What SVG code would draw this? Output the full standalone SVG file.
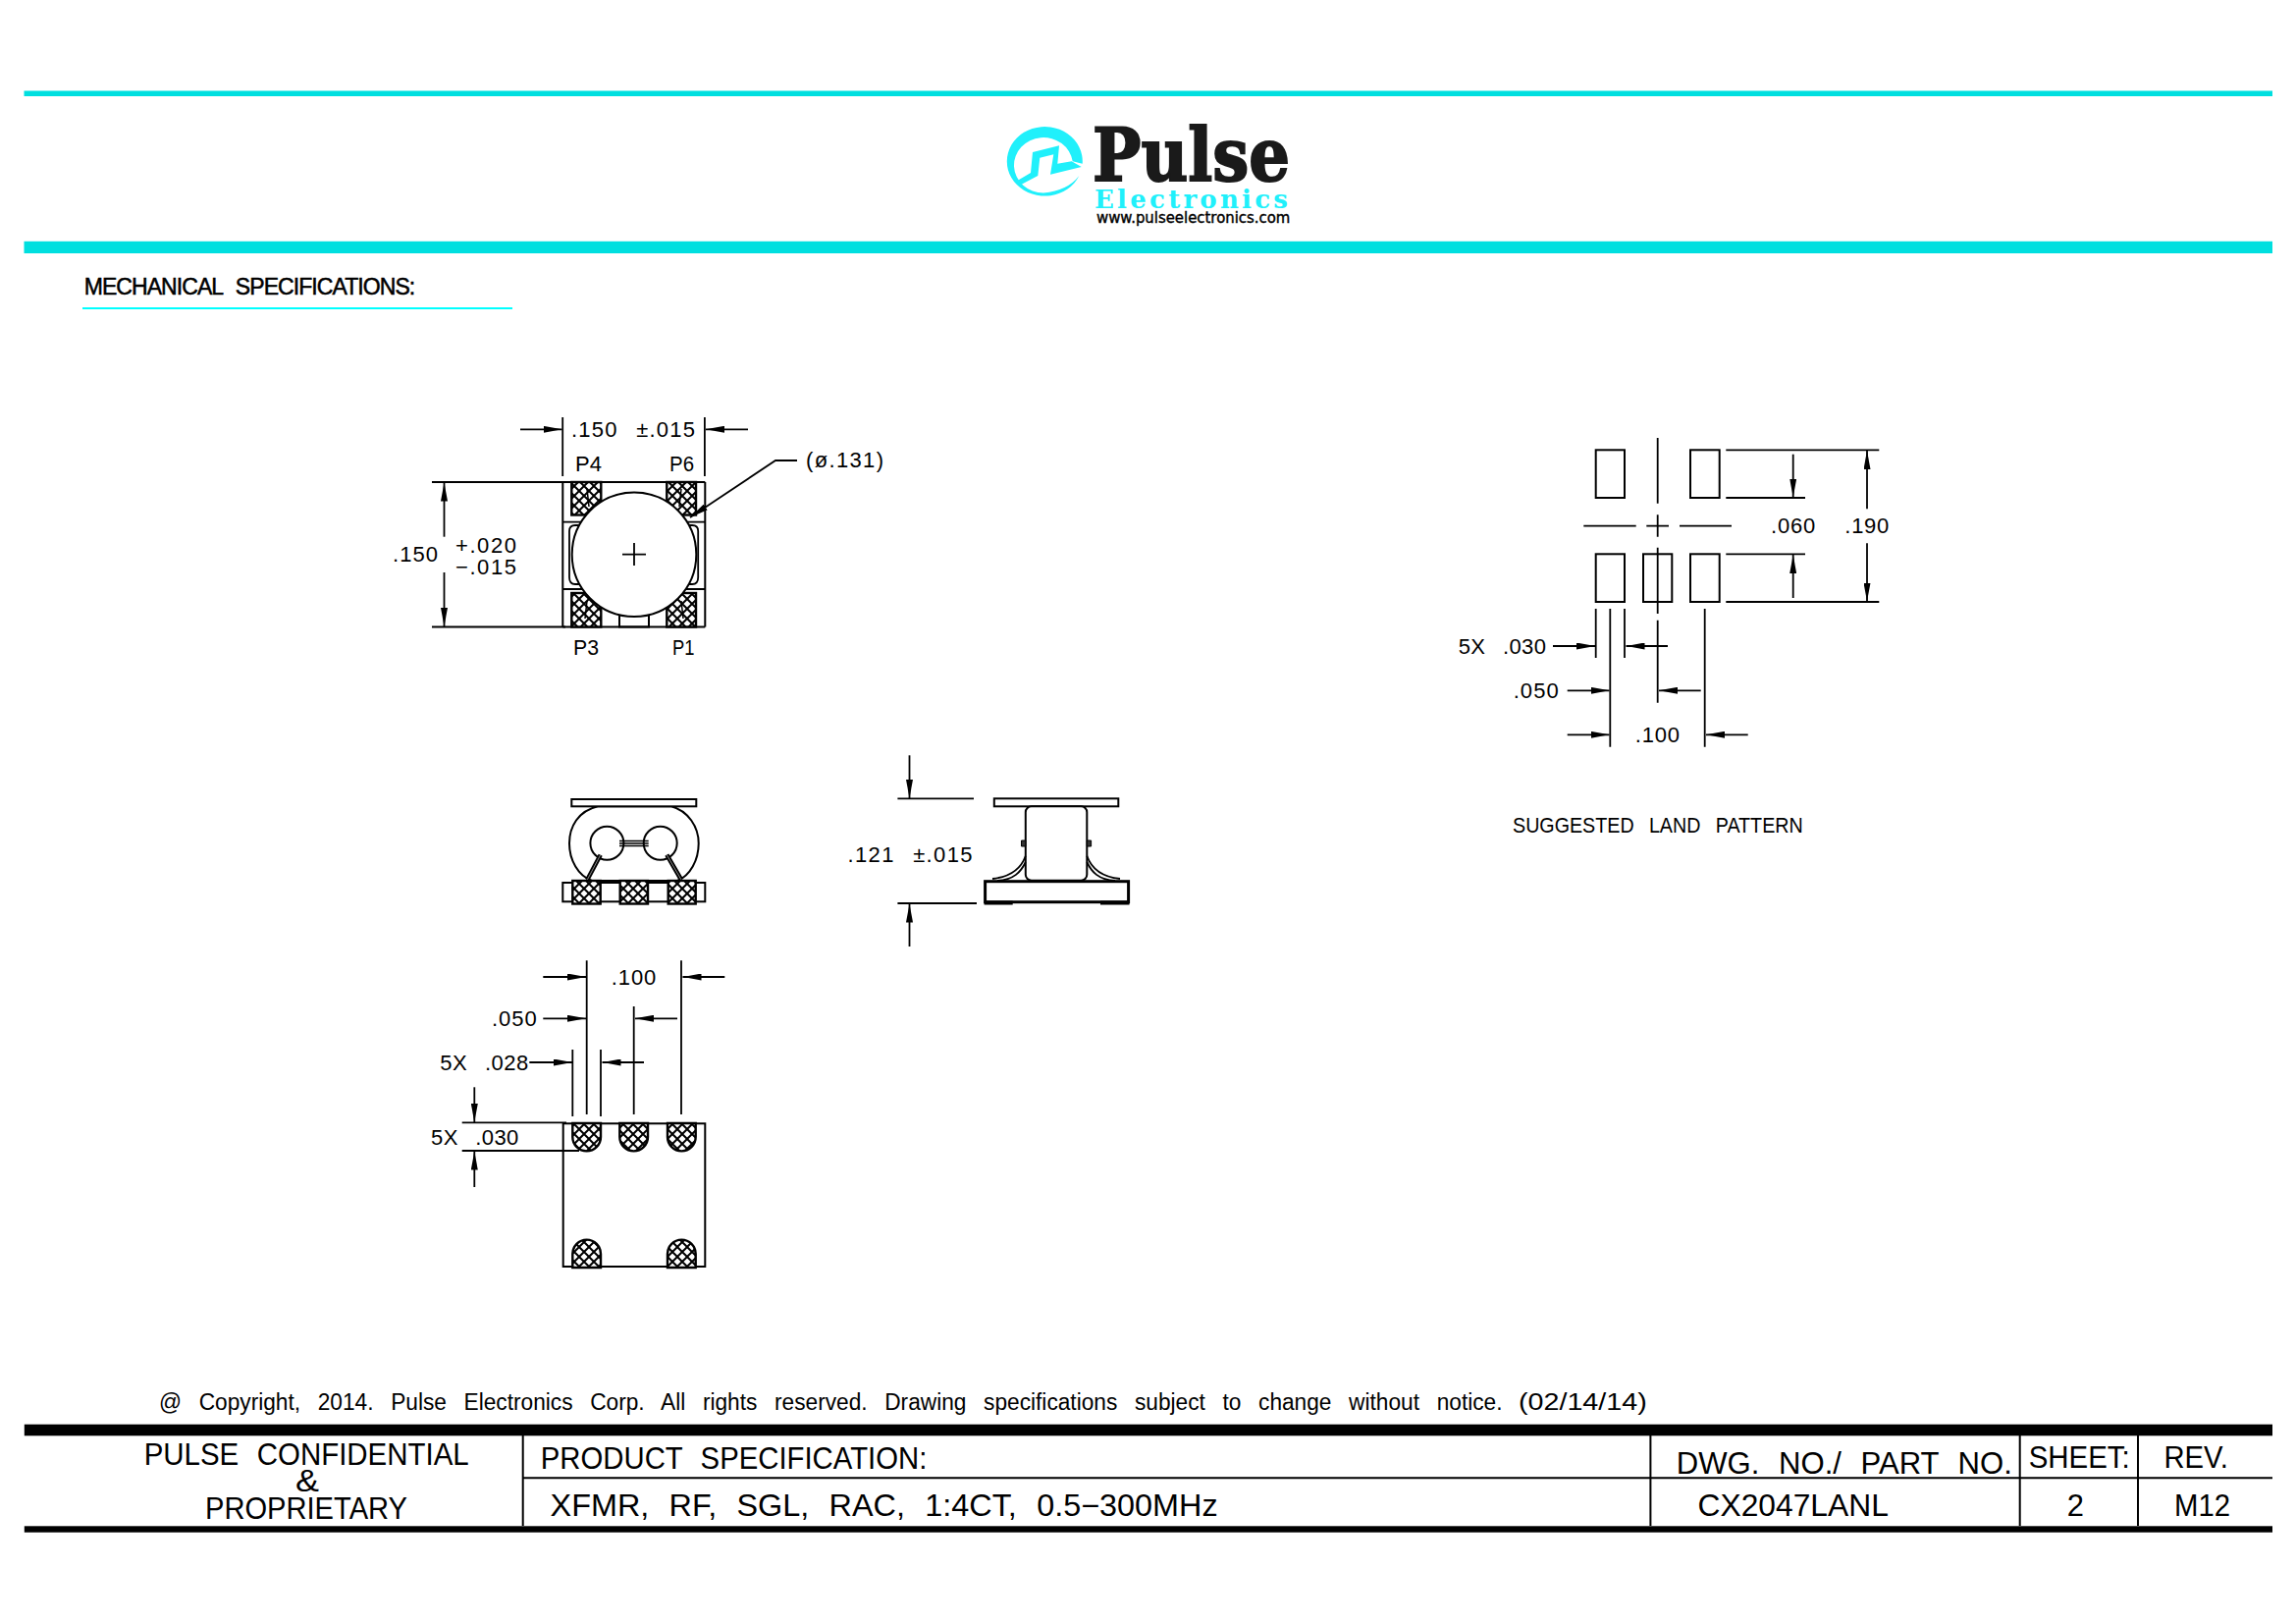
<svg xmlns="http://www.w3.org/2000/svg" width="2339" height="1653" viewBox="0 0 2339 1653">
<style>
text{font-family:"Liberation Sans",Arial,sans-serif;fill:#000;word-spacing:.35em}
.d{font-size:22px;word-spacing:.5em}
.t{font-size:31px}
.c{font-size:23px;word-spacing:.5em}
.l{stroke:#000;stroke-width:1.8;fill:none}
.k{stroke:#000;stroke-width:2;fill:none}
.w{stroke:#000;stroke-width:2;fill:#fff}
.h{stroke:#000;stroke-width:2.4;fill:url(#hatch)}
.a{stroke:#000;stroke-width:1.8;fill:none;marker-end:url(#arrow)}
.teal{fill:#00dfdf}
.cy{fill:#20f0fb}
</style>
<defs>
<marker id="arrow" markerUnits="userSpaceOnUse" markerWidth="19" markerHeight="7" refX="19" refY="3.5" orient="auto"><path d="M0,0L19,3.5L0,7Z" fill="#000"/></marker>
<pattern id="hatch" patternUnits="userSpaceOnUse" width="10" height="10"><rect width="10" height="10" fill="#fff"/><path d="M-1,-1L11,11M-1,11L11,-1" stroke="#000" stroke-width="2"/></pattern>
</defs>
<rect width="2339" height="1653" fill="#fff"/>
<g id="header">
<rect class="teal" x="24.500" y="92.500" width="2290.500" height="5.500"/>
<rect class="teal" x="24.500" y="245.800" width="2290.500" height="12.200"/>
</g>
<g id="logo">
<path class="cy" d="M1102.700,166.700A38.500 35.300 0 1 0 1099.300,179Q1088,194 1063,196.600A30 28.300 0 1 1 1092.700,164.300Z"/>
<path class="cy" d="M1036,184.300L1050,176L1052,155L1079,148.300L1077.300,166.700L1091.700,164.300L1101.700,170L1070,177.700L1073.300,157.300L1059.300,160.700L1057.300,179L1038.300,189Z"/>
<text x="1113" y="183.500" textLength="201" lengthAdjust="spacingAndGlyphs" style="font-family:'DejaVu Serif',serif;font-weight:700;font-size:74px;fill:#1a1a1a;stroke:#1a1a1a;stroke-width:2">Pulse</text>
<text x="1115" y="211.500" textLength="197" lengthAdjust="spacing" style="font-family:'DejaVu Serif',serif;font-weight:700;font-size:26px;fill:#20f0fb">Electronics</text>
<text x="1117" y="227.300" textLength="197.300" lengthAdjust="spacingAndGlyphs" style="font-family:'DejaVu Sans',sans-serif;font-size:15px;stroke:#000;stroke-width:.4">www.pulseelectronics.com</text>
</g>
<g id="heading">
<text x="85.700" y="300" textLength="337.500" lengthAdjust="spacing" style="font-size:23px;stroke:#000;stroke-width:.5">MECHANICAL SPECIFICATIONS:</text>
<rect x="84" y="313" width="438" height="2" fill="#0ff"/>
</g>
<g id="top-view">
<path class="k" d="M573.300,491H718.300M573.300,638.500H718.300M573.300,491V638.500M718.300,491V638.500"/>
<path class="l" d="M573.300,531.700H597M573.300,600H597M694.200,531.700H718.300M694.200,600H718.300"/>
<path class="l" d="M596,535H586Q580,535 580,541V588Q580,595 586,595H596M695.200,535H705.200Q711.200,535 711.200,541V588Q711.200,595 705.200,595H695.200"/>
<rect class="k" x="631" y="623" width="30" height="15.500"/>
<rect class="h" x="582.300" y="491" width="30" height="33.500"/>
<rect class="h" x="679.300" y="491" width="29.700" height="33.500"/>
<rect class="h" x="582.300" y="604" width="30" height="34.500"/>
<rect class="h" x="679.300" y="604" width="29.700" height="34.500"/>
<path d="M598,498L600,516M694,498L692,516M598,612L596,630M694,612L696,630" stroke="#000" stroke-width="1.500" fill="none"/>
<circle class="w" cx="646" cy="564.700" r="63.300"/>
<path class="l" d="M634,564.700H658M646,553V576"/>
</g>
<g id="front-view">
<path class="w" d="M609,821.300H684C701,826 711.700,842 711.700,859C711.700,876 703,892 690,897H603C589,892 580,876 580,859C580,842 589,826 609,821.300Z"/>
<rect class="w" x="582.300" y="814" width="127" height="7.300"/>
<circle class="k" cx="618.400" cy="858.700" r="17"/>
<circle class="k" cx="672.700" cy="858.700" r="17"/>
<path d="M631,856.500H660.700M631,859H660.700M631,861.500H660.700" stroke="#000" stroke-width="1.600"/>
<path d="M611.700,870.700L598.300,896M679.300,870.700L694,896" stroke="#000" stroke-width="4.500" fill="none"/>
<path d="M611.700,870.700L598.300,896M679.300,870.700L694,896" stroke="#888" stroke-width="1" fill="none"/>
<rect class="w" x="573.300" y="899" width="145" height="19.300"/>
<path d="M611,897.500H681" stroke="#000" stroke-width="3"/>
<rect class="h" x="583.300" y="897" width="28.400" height="23.500"/>
<rect class="h" x="631.700" y="897" width="28.300" height="23.500"/>
<rect class="h" x="680.700" y="897" width="28" height="23.500"/>
</g>
<g id="side-view">
<rect class="w" x="1012.800" y="813.300" width="126.500" height="8"/>
<rect class="w" x="1044.800" y="821.300" width="62.500" height="75.400" rx="6"/>
<path d="M1040.500,856h4.300v6h-4.300zM1107.300,856h4.300v6h-4.300z" fill="#333" stroke="#000"/>
<path class="l" d="M1044.800,871.700C1040,885 1030,893 1011,895M1044.800,878C1040,888 1033,896 1016,897M1107.300,871.700C1112,885 1122,893 1141,895M1107.300,878C1112,888 1119,896 1136,897"/>
<rect x="1003.600" y="897.700" width="146" height="21" fill="#fff" stroke="#000" stroke-width="3"/>
<path d="M1002.600,919.500H1031.700M1121,919.500H1150.500" stroke="#000" stroke-width="4"/>
</g>
<g id="bottom-view">
<rect class="k" x="573.700" y="1144.300" width="144.600" height="145.700"/>
<path class="h" d="M583.300,1144H612V1158A14.350 14.350 0 0 1 583.300,1158Z"/>
<path class="h" d="M631.300,1144H660V1158A14.350 14.350 0 0 1 631.300,1158Z"/>
<path class="h" d="M680,1144H708.700V1158A14.350 14.350 0 0 1 680,1158Z"/>
<path class="h" d="M583.300,1291V1277A14.350 14.350 0 0 1 612,1277V1291Z"/>
<path class="h" d="M680,1291V1277A14.350 14.350 0 0 1 708.700,1277V1291Z"/>
</g>
<g id="land-pattern">
<rect class="k" x="1625.700" y="458.300" width="29.300" height="48.700"/>
<rect class="k" x="1722" y="458.300" width="29.700" height="48.700"/>
<rect class="k" x="1625.700" y="564.300" width="29.300" height="48.700"/>
<rect class="k" x="1674" y="564.300" width="29.300" height="48.700"/>
<rect class="k" x="1722" y="564.300" width="29.700" height="48.700"/>
<path class="l" d="M1688.700,446V512.700M1688.700,524.300V546.700M1688.700,557.700V625M1688.700,631.700V715.700M1613.300,535.700H1666.700M1677.300,535.700H1700M1711,535.700H1764"/>
</g>
<g id="connectors">
<path class="l" d="M573.200,425V485M717.900,425V485M440,491H576M440,638.500H576"/>
<line class="a" x1="530" y1="437.300" x2="572.500" y2="437.300"/>
<line class="a" x1="762" y1="437.300" x2="719" y2="437.300"/>
<line class="a" x1="452.500" y1="546.700" x2="452.500" y2="491.500"/>
<line class="a" x1="452.500" y1="583" x2="452.500" y2="638"/>
<path class="a" d="M812,469H790L703,527"/>
<path class="l" d="M914.400,813.300H992M914.400,920H995"/>
<line class="a" x1="926.500" y1="769.300" x2="926.500" y2="813"/>
<line class="a" x1="926.500" y1="964" x2="926.500" y2="920.500"/>
<path class="l" d="M597.700,978.300V1135M694,978.300V1135M645.700,1025V1135M583.300,1069V1137M612,1069V1137M470.700,1143.300H577M470.700,1172H590"/>
<line class="a" x1="553.300" y1="995" x2="597" y2="995"/>
<line class="a" x1="738.300" y1="995" x2="695.500" y2="995"/>
<line class="a" x1="553.300" y1="1037.300" x2="597" y2="1037.300"/>
<line class="a" x1="690" y1="1037.300" x2="647" y2="1037.300"/>
<line class="a" x1="539.300" y1="1082" x2="583" y2="1082"/>
<line class="a" x1="656" y1="1082" x2="613.500" y2="1082"/>
<line class="a" x1="483.300" y1="1107.300" x2="483.300" y2="1143"/>
<line class="a" x1="483.300" y1="1209" x2="483.300" y2="1172.500"/>
<path class="l" d="M1758.300,458.300H1914.300M1758.300,507H1839M1758.300,564.300H1839M1758.300,613H1914.300M1625.700,620V670M1655,620V670M1640.300,620V760.700M1736.700,620V760.700"/>
<line class="a" x1="1826.700" y1="462.700" x2="1826.700" y2="506.500"/>
<line class="a" x1="1826.700" y1="609" x2="1826.700" y2="565"/>
<line class="a" x1="1902" y1="518.300" x2="1902" y2="459"/>
<line class="a" x1="1902" y1="553.300" x2="1902" y2="612.500"/>
<line class="a" x1="1582" y1="658" x2="1625" y2="658"/>
<line class="a" x1="1699" y1="658" x2="1656.500" y2="658"/>
<line class="a" x1="1596.700" y1="703.300" x2="1639.500" y2="703.300"/>
<line class="a" x1="1732.700" y1="703.300" x2="1690" y2="703.300"/>
<line class="a" x1="1596.700" y1="748.300" x2="1639.500" y2="748.300"/>
<line class="a" x1="1780.700" y1="748.300" x2="1738" y2="748.300"/>
</g>
<g id="dimension-labels">
<text class="d" x="582" y="445" textLength="126" lengthAdjust="spacing">.150 ±.015</text>
<text class="d" x="586" y="480" textLength="27" lengthAdjust="spacing">P4</text>
<text class="d" x="682" y="480" textLength="25" lengthAdjust="spacingAndGlyphs">P6</text>
<text class="d" x="584" y="667" textLength="26" lengthAdjust="spacingAndGlyphs">P3</text>
<text class="d" x="685" y="667" textLength="22.500" lengthAdjust="spacingAndGlyphs">P1</text>
<text class="d" x="821" y="476" textLength="79" lengthAdjust="spacing">(ø.131)</text>
<text class="d" x="400" y="572" textLength="46" lengthAdjust="spacing">.150</text>
<text class="d" x="464" y="562.700" textLength="62" lengthAdjust="spacing">+.020</text>
<text class="d" x="464" y="585" textLength="62" lengthAdjust="spacing">−.015</text>
<text class="d" x="863.500" y="878" textLength="127" lengthAdjust="spacing">.121 ±.015</text>
<text class="d" x="622.700" y="1002.700" textLength="45.600" lengthAdjust="spacing">.100</text>
<text class="d" x="501" y="1045" textLength="45.700" lengthAdjust="spacing">.050</text>
<text class="d" x="448.300" y="1090" textLength="90" lengthAdjust="spacing">5X .028</text>
<text class="d" x="439" y="1165.700" textLength="89.300" lengthAdjust="spacing">5X .030</text>
<text class="d" x="1804" y="543.300" textLength="45.300" lengthAdjust="spacing">.060</text>
<text class="d" x="1879.300" y="543.300" textLength="45" lengthAdjust="spacing">.190</text>
<text class="d" x="1485.700" y="665.700" textLength="89.300" lengthAdjust="spacing">5X .030</text>
<text class="d" x="1541.700" y="711" textLength="46" lengthAdjust="spacing">.050</text>
<text class="d" x="1665.700" y="756" textLength="45.300" lengthAdjust="spacing">.100</text>
<text class="d" x="1541" y="848.300" textLength="295.700" lengthAdjust="spacingAndGlyphs">SUGGESTED LAND PATTERN</text>
</g>
<g id="copyright">
<text class="c" x="162" y="1435.700" textLength="1368.500" lengthAdjust="spacingAndGlyphs">@ Copyright, 2014. Pulse Electronics Corp. All rights reserved. Drawing specifications subject to change without notice.</text>
<text class="c" x="1547" y="1435.700" textLength="130.700" lengthAdjust="spacingAndGlyphs">(02/14/14)</text>
</g>
<g id="title-block">
<rect x="24.800" y="1450.700" width="2290.200" height="11.600"/>
<rect x="24.800" y="1554.300" width="2290.200" height="6.400"/>
<path class="k" d="M532.700,1462V1554M1681.400,1462V1554M2057.700,1462V1554M2178,1462V1554M532.700,1505.300H2315"/>
<text class="t" x="146.700" y="1492.300" textLength="331" lengthAdjust="spacingAndGlyphs">PULSE CONFIDENTIAL</text>
<text class="t" x="301" y="1519.300" textLength="24" lengthAdjust="spacingAndGlyphs">&amp;</text>
<text class="t" x="209" y="1546.700" textLength="206" lengthAdjust="spacingAndGlyphs">PROPRIETARY</text>
<text class="t" x="550.800" y="1495.700" textLength="393.500" lengthAdjust="spacingAndGlyphs">PRODUCT SPECIFICATION:</text>
<text class="t" x="560.600" y="1544" textLength="680" lengthAdjust="spacingAndGlyphs">XFMR, RF, SGL, RAC, 1:4CT, 0.5−300MHz</text>
<text class="t" x="1707.800" y="1501" textLength="342" lengthAdjust="spacingAndGlyphs">DWG. NO./ PART NO.</text>
<text class="t" x="2066.700" y="1495" textLength="103" lengthAdjust="spacingAndGlyphs">SHEET:</text>
<text class="t" x="2204.400" y="1495" textLength="65.600" lengthAdjust="spacingAndGlyphs">REV.</text>
<text class="t" x="1729.600" y="1544" textLength="194.200" lengthAdjust="spacingAndGlyphs">CX2047LANL</text>
<text class="t" x="2105.800" y="1544" textLength="17.200" lengthAdjust="spacingAndGlyphs">2</text>
<text class="t" x="2215" y="1544" textLength="57" lengthAdjust="spacingAndGlyphs">M12</text>
</g>
</svg>
